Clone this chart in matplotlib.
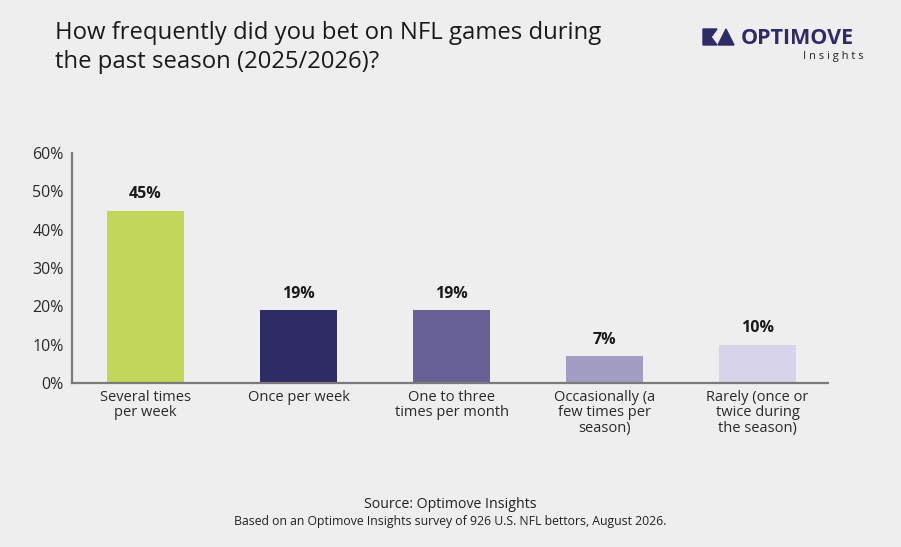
import matplotlib.pyplot as plt
from matplotlib.patches import Polygon

# data
categories = ["Several times\nper week", "Once per week", "One to three\ntimes per month",
              "Occasionally (a\nfew times per\nseason)", "Rarely (once or\ntwice during\nthe season)"]
values = [45, 19, 19, 7, 10]
bar_colors = ["#c2d659", "#2f2b66", "#676195", "#a29ec3", "#d6d3ea"]
yticks = [0, 10, 20, 30, 40, 50, 60]

bg = "#eeeeee"
plt.rcParams["font.family"] = ["Open Sans", "DejaVu Sans"]

fig = plt.figure(figsize=(9.01, 5.47), dpi=100, facecolor=bg)
W, H = 901, 547
ax = fig.add_axes([72 / W, 1 - 383 / H, (828 - 72) / W, (383 - 153) / H])
ax.set_facecolor(bg)

x = range(len(values))
ax.bar(x, values, width=0.5, color=bar_colors, zorder=2)
for xi, v in zip(x, values):
    ax.text(xi, v + 2.2, f"{v}%", ha="center", va="bottom", fontsize=11.5,
            fontweight="bold", color="#1a1a1a")

ax.set_xlim(-0.48, 4.46)
ax.set_ylim(0, 60)
ax.set_yticks(yticks)
ax.set_yticklabels([f"{t}%" for t in yticks], fontsize=11.5, color="#2a2a2a")
ax.set_xticks(list(x))
ax.set_xticklabels(categories, fontsize=10.5, color="#2a2a2a", linespacing=1.05)
ax.tick_params(axis="both", length=0)
ax.tick_params(axis="y", pad=6)
ax.tick_params(axis="x", pad=5)
for s in ["top", "right"]:
    ax.spines[s].set_visible(False)
for s in ["left", "bottom"]:
    ax.spines[s].set_color("#7a7a7a")
    ax.spines[s].set_linewidth(1.6)

# title
fig.text(55 / W, 1 - 21 / H, "How frequently did you bet on NFL games during\nthe past season (2025/2026)?",
         ha="left", va="top", fontsize=17.2, color="#1a1a1a", linespacing=1.25)

# source
fig.text(450 / W, 1 - 505 / H, "Source: Optimove Insights", ha="center", va="center",
         fontsize=10.2, color="#222222", fontweight="medium")
fig.text(450 / W, 1 - 521 / H, "Based on an Optimove Insights survey of 926 U.S. NFL bettors, August 2026.",
         ha="center", va="center", fontsize=8.8, color="#222222")

# logo
navy = "#2f2b66"
def fpt(px, py):
    return (px / W, 1 - py / H)
fig.patches.append(Polygon([fpt(703, 29), fpt(717, 29), fpt(711, 37), fpt(717, 45), fpt(703, 45)],
                           closed=True, transform=fig.transFigure, color=navy))
fig.patches.append(Polygon([fpt(718, 45), fpt(726, 29), fpt(734, 45)],
                           closed=True, transform=fig.transFigure, color=navy))
fig.text(741 / W, 1 - 44 / H, "OPTIMOVE", ha="left", va="baseline", fontsize=15.5,
         fontweight="bold", color=navy)
fig.text(864 / W, 1 - 59 / H, "I n s i g h t s", ha="right", va="baseline", fontsize=8,
         color="#222222")

fig.savefig("out.png", dpi=100, facecolor=bg)
